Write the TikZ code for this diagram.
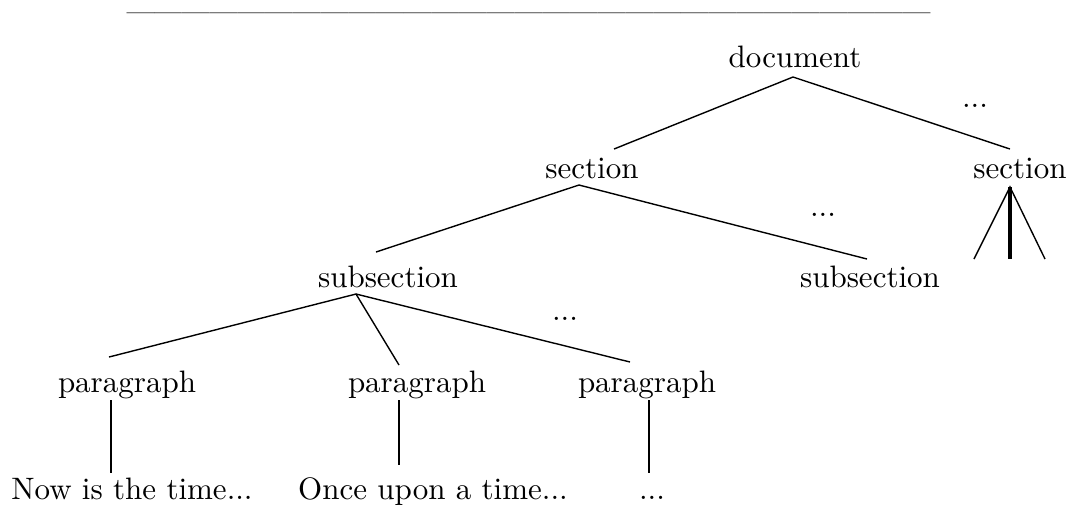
\documentclass[tikz,border=0pt]{standalone}
\begin{document}
\begin{tikzpicture}[x=0.3226pt,y=-0.3226pt,
  lbl/.style={anchor=base,inner sep=0pt,font=\fontsize{10}{12}\selectfont},
  rulelbl/.style={anchor=base,inner sep=0pt,font=\fontsize{8.7}{10}\selectfont},
  edge/.style={line width=0.45pt},
  trunk/.style={line width=1.1pt}]
\useasboundingbox (0,0) rectangle (1068,505);
% top rule of dashes (29 em dashes)
\node[rulelbl] (rule) at (528.5,20.5) {---{}---{}---{}---{}---{}---{}---{}---{}---{}---{}---{}---{}---{}---{}---{}---{}---{}---{}---{}---{}---{}---{}---{}---{}---{}---{}---{}---{}---};
% nodes
\node[lbl] (doc)  at (795,67)  {document};
\node[lbl] (dd1)  at (975,107) {...};
\node[lbl] (sec1) at (592,178) {section};
\node[lbl] (sec2) at (1020,178) {section};
\node[lbl] (dd2)  at (823,216) {...};
\node[lbl] (sub1) at (388,287) {subsection};
\node[lbl] (sub2) at (870,287) {subsection};
\node[lbl] (dd3)  at (565,320) {...};
\node[lbl] (par1) at (127,392) {paragraph};
\node[lbl] (par2) at (417,392) {paragraph};
\node[lbl] (par3) at (647,392) {paragraph};
\node[lbl] (txt1) at (132,499) {Now is the time...};
\node[lbl] (txt2) at (433,499) {Once upon a time...};
\node[lbl] (txt3) at (652,499) {...};
% connector end points
\coordinate (doc-b)  at (793,77);
\coordinate (sec1-t) at (614,149);
\coordinate (sec2-t) at (1010,149);
\coordinate (sec1-b) at (579,185);
\coordinate (sub1-t) at (376,252);
\coordinate (sub2-t) at (867,259);
\coordinate (sec2-b) at (1010,187);
\coordinate (sec2-l) at (974,259);
\coordinate (sec2-m) at (1010,259);
\coordinate (sec2-r) at (1045,259);
\coordinate (sub1-b) at (356,294);
\coordinate (par1-t) at (109,357);
\coordinate (par2-t) at (399,365);
\coordinate (par3-t) at (630,362);
\coordinate (par1-b) at (111,400);
\coordinate (txt1-t) at (111,473);
\coordinate (par2-b) at (399,400);
\coordinate (txt2-t) at (399,465);
\coordinate (par3-b) at (649,400);
\coordinate (txt3-t) at (649,473);
% connectors
\draw[edge] (sec1-t) -- (doc-b) -- (sec2-t);
\draw[edge] (sub1-t) -- (sec1-b) -- (sub2-t);
\draw[edge] (sec2-l) -- (sec2-b) -- (sec2-r);
\draw[trunk] (sec2-b) -- (sec2-m);
\draw[edge] (par1-t) -- (sub1-b) -- (par3-t);
\draw[edge] (sub1-b) -- (par2-t);
\draw[edge] (par1-b) -- (txt1-t);
\draw[edge] (par2-b) -- (txt2-t);
\draw[edge] (par3-b) -- (txt3-t);
\end{tikzpicture}
\end{document}
